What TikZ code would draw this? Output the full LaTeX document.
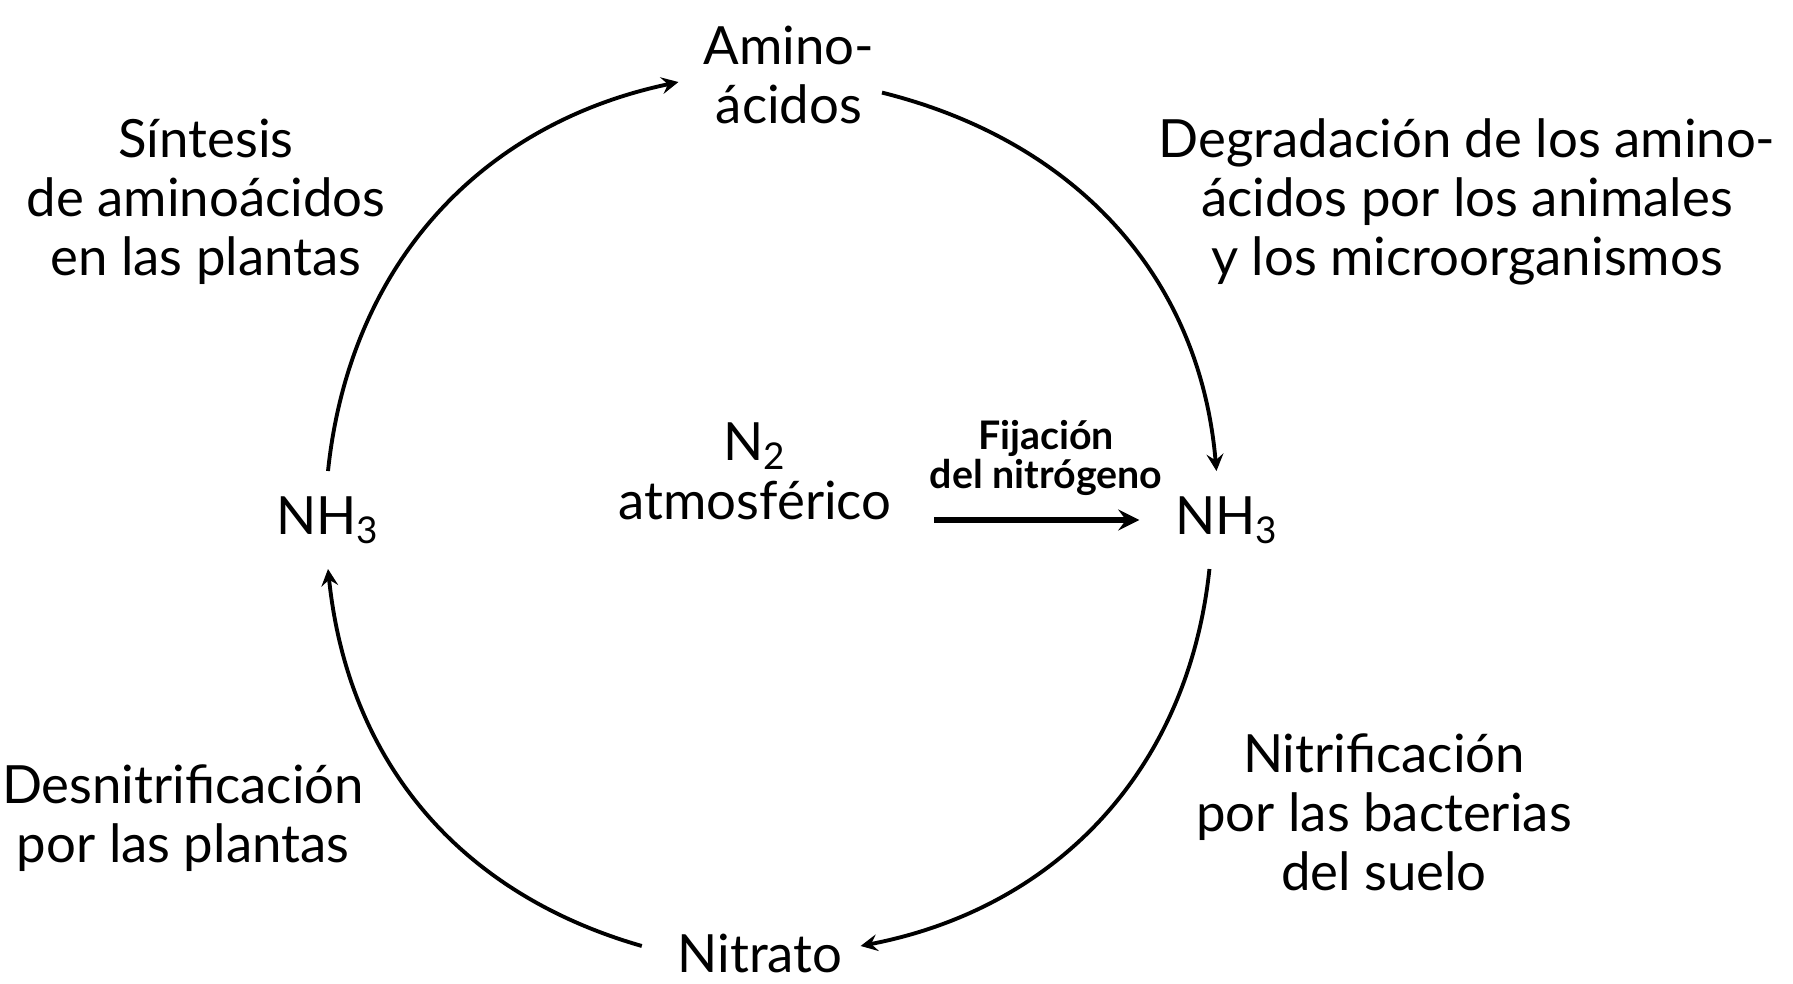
\documentclass[tikz,border=0pt]{standalone}
\usepackage{fontspec}
\setmainfont{Lato}
\begin{document}
\begin{tikzpicture}[>=stealth,
        txt/.style={align=center, font=\fontsize{15}{16.8}\selectfont, inner sep=2pt},
        small/.style={align=center, font=\bfseries\fontsize{11.2}{11.2}\selectfont, inner sep=1pt},
        cyc/.style={->, line width=1.1pt}]
    \useasboundingbox (0, 0) rectangle (17.93, 9.83);

    % Compounds on the cycle
    \node[txt] (amino) at (7.89, 9.08) {Amino-\\ácidos};
    \node[txt] (nh3l) at (3.28, 4.63) {NH\textsubscript{3}};
    \node[txt] (nh3r) at (12.27, 4.63) {NH\textsubscript{3}};
    \node[txt] (nitrato) at (7.60, 0.30) {Nitrato};
    \node[txt] (n2) at (7.55, 5.12) {N\textsubscript{2}\\atmosférico};

    % Processes
    \node[txt] (sintesis) at (2.06, 7.81) {Síntesis\\de aminoácidos\\en las plantas};
    \node[txt] (degrad) at (14.67, 7.81) {Degradación de los amino-\\ácidos por los animales\\y los microorganismos};
    \node[txt] (nitrif) at (13.84, 1.71) {Nitrificación\\por las bacterias\\del suelo};
    \node[txt] (desnit) at (1.83, 1.65) {Desnitrificación\\por las plantas};
    \node[small] (fij) at (10.46, 5.25) {Fijación\\del nitrógeno};

    % The cycle
    \draw[cyc] ([yshift=5pt]nh3l.north) to[out=84, in=192] ([xshift=-5pt, yshift=-2pt]amino.west);
    \draw[cyc] ([yshift=-5pt]amino.east) to[out=-14, in=95] ([xshift=-3pt, yshift=5pt]nh3r.north);
    \draw[cyc] ([xshift=-5pt, yshift=-5pt]nh3r.south) to[out=-96, in=11] ([xshift=3pt, yshift=2pt]nitrato.east);
    \draw[cyc] ([xshift=-8pt, yshift=2pt]nitrato.west) to[out=164, in=-84] ([yshift=-5pt]nh3l.south);

    % Fixation
    \draw[->, line width=1.6pt] ([xshift=10pt]n2.east |- nh3r.west) -- ([xshift=-8pt]nh3r.west);
\end{tikzpicture}
\end{document}
